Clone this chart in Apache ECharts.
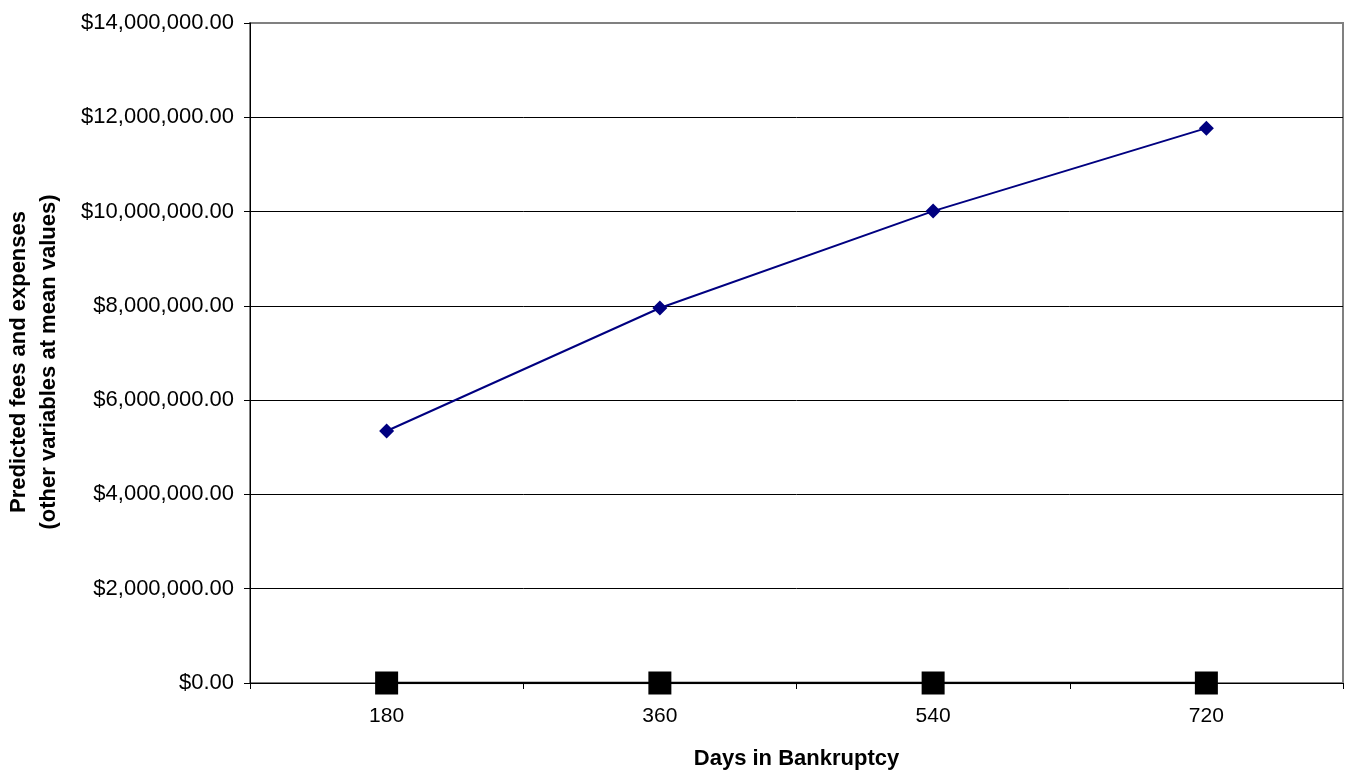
<!DOCTYPE html>
<html>
<head>
<meta charset="utf-8">
<script src="https://cdn.jsdelivr.net/npm/echarts@6/dist/echarts.min.js"></script>
<style>
  html, body { margin: 0; padding: 0; background: #fff; }
  #chart { width: 1350px; height: 771px; }
</style>
</head>
<body>
<div id="chart"></div>
<script>
// Days in bankruptcy (categories)
const days = ['180', '360', '540', '720'];
// Predicted fees and expenses at each duration
const predictedFees = [5345000, 7955000, 10010000, 11770000];
// Baseline series drawn along zero
const baseline = [0, 0, 0, 0];

const yMin = 0;
const yMax = 14000000;
const yStep = 2000000;

function money(v) {
  const parts = Math.round(v).toString().replace(/\B(?=(\d{3})+(?!\d))/g, ',');
  return '$' + parts + '.00';
}

const chart = echarts.init(document.getElementById('chart'), null, { renderer: 'canvas' });
const font = 'Arial, "Liberation Sans", sans-serif';

chart.setOption({
  animation: false,
  backgroundColor: '#ffffff',
  grid: {
    left: 250, right: 7, top: 23, bottom: 88,
    containLabel: false,
    outerBoundsMode: 'none',
    show: true,
    borderColor: '#808080',
    borderWidth: 2,
    backgroundColor: '#ffffff'
  },
  xAxis: {
    type: 'category',
    data: days,
    boundaryGap: true,
    name: 'Days in Bankruptcy',
    nameLocation: 'middle',
    nameGap: 65,
    nameTextStyle: { fontFamily: font, fontSize: 22, fontWeight: 'bold', color: '#000' },
    axisLine: { show: true, onZero: false, lineStyle: { color: '#000', width: 1 } },
    axisTick: { show: true, interval: 0, length: 6, lineStyle: { color: '#000' } },
    axisLabel: { fontFamily: font, fontSize: 21, color: '#000', margin: 23 },
    splitLine: { show: false }
  },
  yAxis: {
    type: 'value',
    min: yMin,
    max: yMax,
    interval: yStep,
    axisLine: { show: true, lineStyle: { color: '#000', width: 1 } },
    axisTick: { show: true, length: 6, lineStyle: { color: '#000' } },
    axisLabel: { fontFamily: font, fontSize: 22, color: '#000', margin: 16, formatter: money },
    splitLine: { show: true, showMaxLine: false, lineStyle: { color: '#000', width: 1 } }
  },
  graphic: [{
    type: 'text',
    x: 34,
    y: 362,
    rotation: Math.PI / 2,
    style: {
      text: 'Predicted fees and expenses\n(other variables at mean values)',
      font: 'bold 22px ' + font,
      fill: '#000',
      align: 'center',
      verticalAlign: 'middle',
      lineHeight: 30
    }
  }],
  series: [
    {
      name: 'Predicted',
      type: 'line',
      data: predictedFees,
      symbol: 'diamond',
      symbolSize: 15,
      lineStyle: { color: '#000080', width: 2 },
      itemStyle: { color: '#000080' },
      z: 3
    },
    {
      name: 'Baseline',
      type: 'line',
      data: baseline,
      symbol: 'rect',
      symbolSize: 23,
      lineStyle: { color: '#000', width: 2.5 },
      itemStyle: { color: '#000' },
      z: 4
    }
  ]
});
</script>
</body>
</html>
